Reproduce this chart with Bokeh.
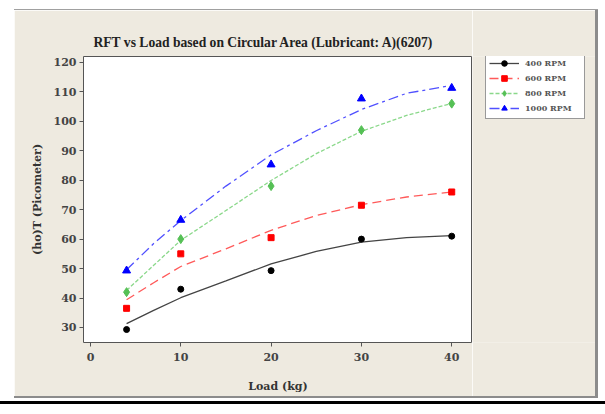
from bokeh.plotting import figure
from bokeh.models import Legend, LegendItem, Spacer, FixedTicker, Title, Range1d
from bokeh.layouts import column, row
from bokeh.embed import file_html
from bokeh.resources import INLINE

# ---- data ----
loads = [4, 10, 20, 30, 40]
rft_400 = [29.3, 43.0, 49.3, 60.0, 61.0]
rft_600 = [36.5, 55.0, 60.5, 71.5, 76.0]
rft_800 = [42.0, 60.0, 78.0, 97.0, 106.0]
rft_1000 = [49.3, 66.5, 85.3, 107.7, 111.3]

fit_loads = [4, 7, 10, 15, 20, 25, 30, 35, 40]
fit_400 = [31.3, 35.8, 40.1, 45.8, 51.6, 55.8, 59.0, 60.5, 61.2]
fit_600 = [39.4, 45.2, 50.7, 56.7, 63.0, 68.0, 71.7, 74.3, 76.0]
fit_800 = [42.6, 51.1, 59.6, 69.7, 79.9, 89.0, 96.6, 102.0, 106.1]
fit_1000 = [49.6, 58.5, 66.3, 78.0, 88.6, 96.8, 104.0, 109.5, 112.2]

series_names = ["400 RPM", "600 RPM", "800 RPM", "1000 RPM"]
x_ticks = [0, 10, 20, 30, 40]
y_ticks = [30, 40, 50, 60, 70, 80, 90, 100, 110, 120]

BEIGE = "#EEEAE0"
SERIF = "DejaVu Serif"

p = figure(width=458, height=386, x_range=(-0.77, 42.3), y_range=(24.9, 122.0),
           output_backend="svg", toolbar_location=None,
           min_border_left=69, min_border_right=0, min_border_top=46, min_border_bottom=54)
p.title = None
p.add_layout(Title(text="RFT vs Load based on Circular Area (Lubricant: A)(6207)",
                   text_font="Liberation Serif", text_font_size="13.6px",
                   text_font_style="bold", text_color="#222222", align="left", offset=10,
                   standoff=13), "above")
p.border_fill_color = BEIGE
p.background_fill_color = "white"
p.outline_line_color = "#555555"
p.outline_line_width = 1
p.xgrid.visible = False
p.ygrid.visible = False

for ax in (p.xaxis[0], p.yaxis[0]):
    ax.axis_line_color = None
    ax.major_tick_line_color = "#555555"
    ax.major_tick_in = 0
    ax.major_tick_out = 4
    ax.minor_tick_line_color = None
    ax.major_label_text_font = SERIF
    ax.major_label_text_font_style = "bold"
    ax.major_label_text_font_size = "11px"
    ax.major_label_text_color = "#444444"
    ax.axis_label_text_font = SERIF
    ax.axis_label_text_font_style = "bold"
    ax.axis_label_text_font_size = "11px"
    ax.axis_label_text_color = "#333333"

p.xaxis.ticker = FixedTicker(ticks=x_ticks)
p.yaxis.ticker = FixedTicker(ticks=y_ticks)
p.xaxis.axis_label = "Load (kg)"
p.yaxis.axis_label = "(ho)T (Picometer)"
p.xaxis.major_label_standoff = 6
p.yaxis.major_label_standoff = 3
p.xaxis.axis_label_standoff = 16
p.yaxis.axis_label_standoff = 7

styles = [
    dict(vals=rft_400, fit=fit_400, lc="#444444", dash="solid", mc="black", marker="circle", size=6),
    dict(vals=rft_600, fit=fit_600, lc="#FF5A5A", dash="9 5", mc="#FF0000", marker="square", size=6),
    dict(vals=rft_800, fit=fit_800, lc="#8AD88A", dash="4 2", mc="#55C055", marker="diamond", size=9),
    dict(vals=rft_1000, fit=fit_1000, lc="#5050FF", dash="10 4 3 4", mc="#0000FF", marker="triangle", size=8),
]

# legend panel: a second, axis-free figure whose view lies away from the data,
# so its copies of the series only serve as legend glyphs
pl = figure(width=123, height=386, x_range=Range1d(1000, 1001), y_range=Range1d(1000, 1001),
            output_backend="svg", toolbar_location=None, x_axis_type=None, y_axis_type=None,
            min_border=0)
pl.title = None
pl.border_fill_color = BEIGE
pl.background_fill_color = BEIGE
pl.outline_line_color = None
pl.xgrid.visible = False
pl.ygrid.visible = False

items = []
for name, st in zip(series_names, styles):
    for fig in (p, pl):
        l = fig.line(fit_loads, st["fit"], line_color=st["lc"], line_width=1.3, line_dash=st["dash"])
        s = fig.scatter(loads, st["vals"], marker=st["marker"], size=st["size"],
                        fill_color=st["mc"], line_color=st["mc"])
    items.append(LegendItem(label=name, renderers=[l, s]))

legend = Legend(items=items, location=(13, 223), margin=0,
                border_line_color="#333333", border_line_width=1,
                background_fill_color="white", background_fill_alpha=1,
                label_text_font=SERIF, label_text_font_style="bold",
                label_text_font_size="8px", label_text_color="#555555",
                glyph_width=30, glyph_height=14, label_height=14, label_width=56,
                spacing=1, padding=3, label_standoff=6)
pl.add_layout(legend, "center")

GREY = "#8c8c8c"
layout = column(
    Spacer(width=605, height=9),
    row(Spacer(width=14, height=1), Spacer(width=584, height=1, styles={"background-color": "#a0a0a0"})),
    row(Spacer(width=14, height=386), p, pl, Spacer(width=3, height=386, styles={"background-color": GREY})),
    row(Spacer(width=14, height=2), Spacer(width=584, height=2, styles={"background-color": GREY})),
    Spacer(width=605, height=3),
    Spacer(width=605, height=3, styles={"background-color": "black"}),
)

open("out.html", "w").write(file_html(layout, INLINE))
